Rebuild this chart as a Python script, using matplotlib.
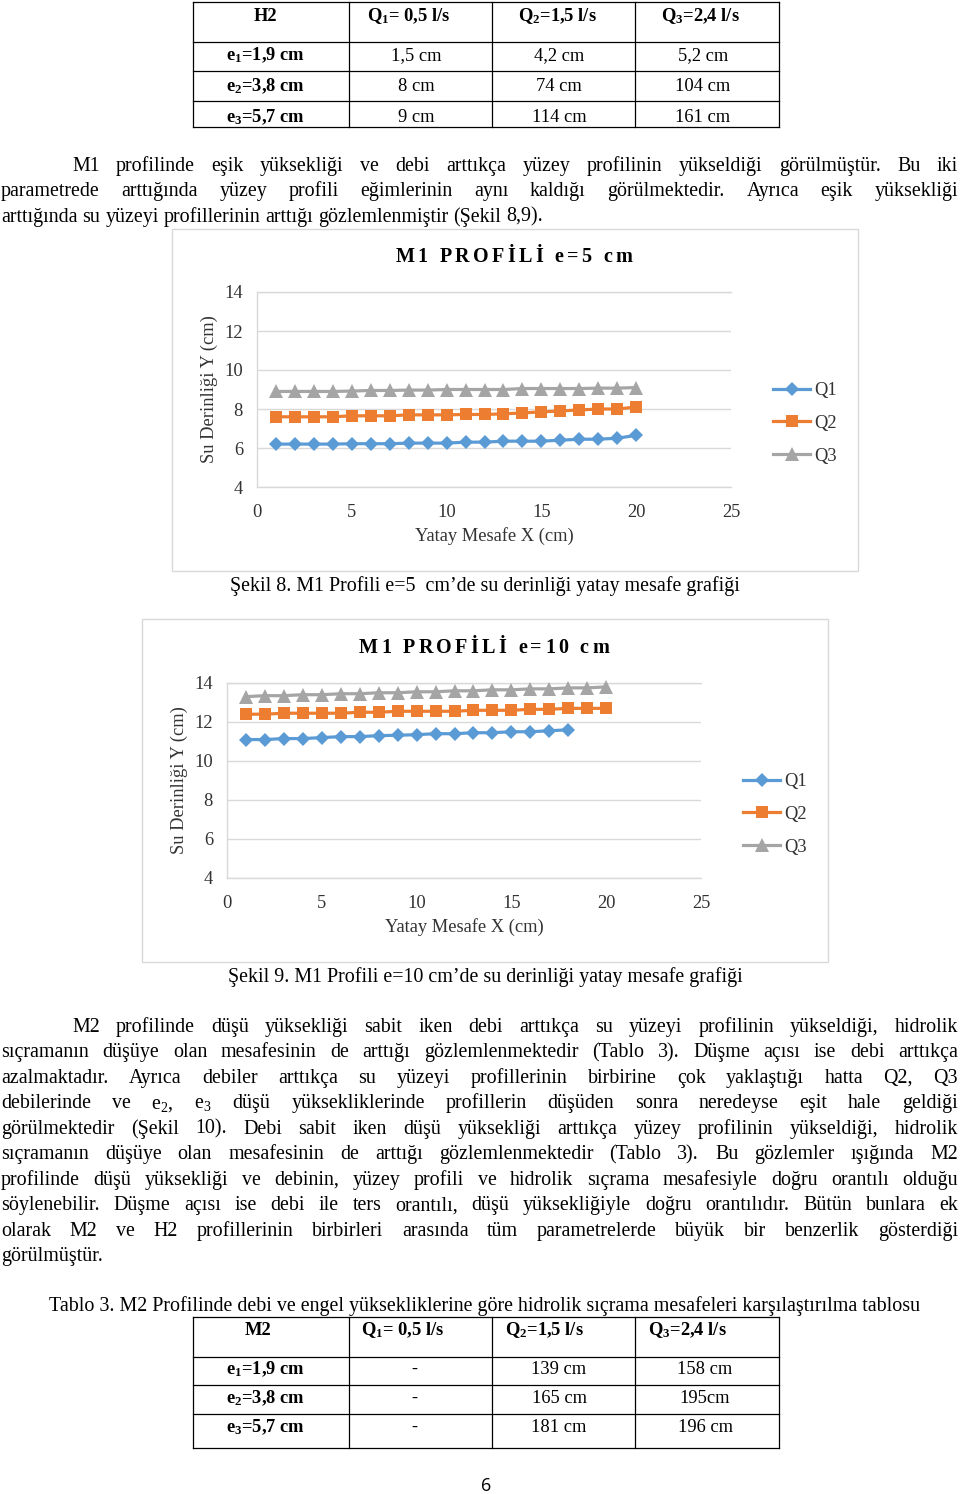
import matplotlib
matplotlib.use('Agg')
import matplotlib.pyplot as plt
from matplotlib.lines import Line2D
from matplotlib.patches import Rectangle

plt.rcParams['font.family'] = ['Liberation Serif', 'DejaVu Serif']
plt.rcParams['mathtext.fontset'] = 'custom'
plt.rcParams['mathtext.rm'] = 'Liberation Serif'
plt.rcParams['mathtext.it'] = 'Liberation Serif:italic'
plt.rcParams['mathtext.bf'] = 'Liberation Serif:bold'

# ---------------- data ----------------
x_points = list(range(1, 21))
x_points_q1_e10 = list(range(1, 19))

e5_q1 = [6.2, 6.2, 6.2, 6.2, 6.22, 6.22, 6.22, 6.25, 6.25, 6.25,
         6.3, 6.3, 6.35, 6.35, 6.35, 6.4, 6.45, 6.45, 6.5, 6.65]
e5_q2 = [7.6, 7.6, 7.6, 7.6, 7.65, 7.65, 7.65, 7.7, 7.7, 7.7,
         7.72, 7.72, 7.75, 7.8, 7.85, 7.9, 7.95, 8.0, 8.0, 8.1]
e5_q3 = [8.9, 8.9, 8.9, 8.9, 8.92, 8.95, 8.95, 8.97, 8.97, 9.0,
         9.0, 9.0, 9.0, 9.05, 9.05, 9.05, 9.05, 9.07, 9.07, 9.1]

e10_q1 = [11.1, 11.1, 11.15, 11.15, 11.2, 11.25, 11.25, 11.3, 11.32, 11.35,
          11.4, 11.4, 11.45, 11.45, 11.5, 11.5, 11.55, 11.6]
e10_q2 = [12.4, 12.4, 12.45, 12.45, 12.45, 12.45, 12.5, 12.5, 12.55, 12.55,
          12.55, 12.55, 12.6, 12.6, 12.6, 12.65, 12.65, 12.7, 12.7, 12.7]
e10_q3 = [13.3, 13.35, 13.35, 13.4, 13.4, 13.45, 13.45, 13.5, 13.5, 13.55,
          13.55, 13.6, 13.6, 13.65, 13.65, 13.7, 13.7, 13.75, 13.75, 13.8]

series_names = ['Q1', 'Q2', 'Q3']
x_ticks = [0, 5, 10, 15, 20, 25]
x_tick_labels = ['0', '5', '10', '15', '20', '25']
y_ticks = [4, 6, 8, 10, 12, 14]
y_tick_labels = ['4', '6', '8', '10', '12', '14']

chart1_title = 'M1 PROFİLİ e=5 cm'
chart2_title = 'M1 PROFİLİ e=10 cm'
x_label = 'Yatay Mesafe X (cm)'
y_label = 'Su Derinliği Y (cm)'

t1_header = ['H2', r'Q$_\mathbf{1}$= 0,5 l/s', r'Q$_\mathbf{2}$=1,5 l/s', r'Q$_\mathbf{3}$=2,4 l/s']
t_rows = [r'e$_\mathbf{1}$=1,9 cm', r'e$_\mathbf{2}$=3,8 cm', r'e$_\mathbf{3}$=5,7 cm']
t1_values = [['1,5 cm', '4,2 cm', '5,2 cm'],
             ['8 cm', '74 cm', '104 cm'],
             ['9 cm', '114 cm', '161 cm']]
t3_header = ['M2', r'Q$_\mathbf{1}$= 0,5 l/s', r'Q$_\mathbf{2}$=1,5 l/s', r'Q$_\mathbf{3}$=2,4 l/s']
t3_values = [['-', '139 cm', '158 cm'],
             ['-', '165 cm', '195cm'],
             ['-', '181 cm', '196 cm']]

para1 = [
    'M1 profilinde eşik yüksekliği ve debi arttıkça yüzey profilinin yükseldiği görülmüştür. Bu iki',
    'parametrede arttığında yüzey profili eğimlerinin aynı kaldığı görülmektedir. Ayrıca eşik yüksekliği',
    'arttığında su yüzeyi profillerinin arttığı gözlemlenmiştir (Şekil 8,9).',
]
para2 = [
    'M2 profilinde düşü yüksekliği sabit iken debi arttıkça su yüzeyi profilinin yükseldiği, hidrolik',
    'sıçramanın düşüye olan mesafesinin de arttığı gözlemlenmektedir (Tablo 3).  Düşme açısı ise debi arttıkça',
    'azalmaktadır. Ayrıca debiler arttıkça su yüzeyi profillerinin birbirine çok yaklaştığı hatta Q2, Q3',
    'debilerinde ve e$_2$, e$_3$ düşü yüksekliklerinde profillerin düşüden sonra neredeyse eşit hale geldiği',
    'görülmektedir (Şekil 10). Debi sabit iken düşü yüksekliği arttıkça yüzey profilinin yükseldiği, hidrolik',
    'sıçramanın düşüye olan mesafesinin de arttığı gözlemlenmektedir (Tablo 3). Bu gözlemler ışığında M2',
    'profilinde düşü yüksekliği ve debinin, yüzey profili ve hidrolik sıçrama mesafesiyle doğru orantılı olduğu',
    'söylenebilir. Düşme açısı ise debi ile ters orantılı, düşü yüksekliğiyle doğru orantılıdır. Bütün bunlara ek',
    'olarak M2 ve H2 profillerinin birbirleri arasında tüm parametrelerde büyük bir benzerlik gösterdiği',
    'görülmüştür.',
]
caption8 = 'Şekil 8. M1 Profili e=5  cm’de su derinliği yatay mesafe grafiği'
caption9 = 'Şekil 9. M1 Profili e=10 cm’de su derinliği yatay mesafe grafiği'
caption_t3 = 'Tablo 3. M2 Profilinde debi ve engel yüksekliklerine göre hidrolik sıçrama mesafeleri karşılaştırılma tablosu'
page_no = '6'

# ---------------- layout helpers ----------------
W, H = 960, 1494
fig = plt.figure(figsize=(9.6, 14.94), dpi=100)
renderer = fig.canvas.get_renderer()

def fx(x):
    return x / W

def fy(y):
    return 1 - y / H

BODY = 14.4
TABLE = 13.3
BASE = 5.8
TXT = '#333333'

def twidth(s, **kw):
    t = fig.text(0, 0, s, **kw)
    w = t.get_window_extent(renderer).width
    t.remove()
    return w

SPACE = twidth('a a', fontsize=BODY) - twidth('aa', fontsize=BODY)

def put(x, y, s, ha='center', size=BODY, weight='normal', color='black', family=None):
    kw = dict(fontsize=size, fontweight=weight, color=color, ha=ha, va='baseline')
    if family:
        kw['family'] = family
    return fig.text(fx(x), fy(y + BASE), s, **kw)

def para_line(line, y, x0=1, x1=958, justify=True):
    words = line.split()
    ts = [fig.text(0, fy(y + BASE), w, fontsize=BODY, va='baseline', ha='left') for w in words]
    ws = [t.get_window_extent(renderer).width for t in ts]
    if justify and len(words) > 1:
        gap = (x1 - x0 - sum(ws)) / (len(words) - 1)
    else:
        gap = SPACE
    x = x0
    for t, w in zip(ts, ws):
        t.set_x(fx(x))
        x += w + gap

def spaced_title(cx, cy, s, size, sp):
    kw = dict(fontsize=size, fontweight='bold')
    ref = twidth('|', **kw)
    total = twidth(s, **kw) + sp * (len(s) - 1)
    x0 = cx - total / 2
    for i, ch in enumerate(s):
        if ch == ' ':
            continue
        off = twidth(s[:i] + '|', **kw) - ref if i > 0 else 0
        fig.text(fx(x0 + off + sp * i), fy(cy + 6), ch, va='baseline', ha='left', **kw)

def hline(x0, x1, y, lw=0.9):
    fig.add_artist(Line2D([fx(x0), fx(x1)], [fy(y), fy(y)], transform=fig.transFigure,
                          color='black', lw=lw))

def vline(x, y0, y1, lw=0.9):
    fig.add_artist(Line2D([fx(x), fx(x)], [fy(y0), fy(y1)], transform=fig.transFigure,
                          color='black', lw=lw))

def draw_table(header, values, top, hdr_bot, row_lines, bottom, hdr_y, row_ys, hdr_x, hdr_ha, val_x):
    cols = [193, 349, 492, 635, 779]
    for yy in [top, hdr_bot] + row_lines + [bottom]:
        hline(cols[0], cols[-1], yy)
    for c in cols:
        vline(c, top, bottom)
    for i, h in enumerate(header):
        put(hdr_x[i], hdr_y, h, ha=hdr_ha[i], weight='bold', size=TABLE)
    for r, yy in enumerate(row_ys):
        put(265, yy, t_rows[r], weight='bold', size=TABLE)
        for c in range(3):
            put(val_x[c], yy, values[r][c], size=TABLE)

def draw_chart(box, left, top, xs_list, ys_list, title):
    bx0, by0, bx1, by1 = box
    fig.add_artist(Rectangle((fx(bx0), fy(by1)), (bx1 - bx0) / W, (by1 - by0) / H,
                             transform=fig.transFigure, facecolor='white',
                             edgecolor='#d9d9d9', lw=1.0, zorder=-5))
    w, h = 474, 195
    ax = fig.add_axes([fx(left), fy(top + h), w / W, h / H])
    ax.set_facecolor('none')
    colors = ['#5B9BD5', '#ED7D31', '#A5A5A5']
    markers = ['D', 's', '^']
    msizes = [7.6, 9.2, 10.4]
    for xs, ys, nm, c, m, ms in zip(xs_list, ys_list, series_names, colors, markers, msizes):
        ax.plot(xs, ys, color=c, marker=m, markersize=ms, lw=2.3, mew=0,
                label=nm, clip_on=False, zorder=3)
    ax.set_xlim(0, 25)
    ax.set_ylim(4, 14)
    ax.set_xticks(x_ticks)
    ax.set_xticklabels(x_tick_labels)
    ax.set_yticks(y_ticks)
    ax.set_yticklabels(y_tick_labels)
    ax.tick_params(length=0, labelsize=13.3, colors=TXT)
    ax.tick_params(axis='x', pad=12)
    ax.tick_params(axis='y', pad=10)
    ax.yaxis.grid(True, color='#d9d9d9', lw=1.0)
    ax.set_axisbelow(True)
    for s in ['top', 'bottom', 'left']:
        ax.spines[s].set_color('#d9d9d9')
        ax.spines[s].set_linewidth(1.0)
    ax.spines['right'].set_visible(False)
    ax.set_xlabel(x_label, fontsize=13.3, color=TXT, va='center')
    ax.xaxis.set_label_coords(0.5, -0.251)
    ax.set_ylabel(y_label, fontsize=13.3, color=TXT, va='center')
    ax.yaxis.set_label_coords(-0.101, 0.5)
    ax.legend(loc='center left', bbox_to_anchor=(1.089, 0.326), frameon=False,
              fontsize=13.3, handlelength=2.0, handletextpad=0.25, labelspacing=0.86,
              borderpad=0, borderaxespad=0, labelcolor=TXT)
    spaced_title(left + 0.542 * w, top + h - 1.185 * h, title, 14.5, 3.3)
    return ax

# ---------------- table 1 (top) ----------------
draw_table(t1_header, t1_values, top=2, hdr_bot=42, row_lines=[71, 101], bottom=127,
           hdr_y=15, row_ys=[54, 85, 116],
           hdr_x=[265, 409, 557, 700], hdr_ha=['center'] * 4, val_x=[416, 559, 703])

# ---------------- paragraph 1 ----------------
for i, line in enumerate(para1):
    last = i == len(para1) - 1
    para_line(line, 165 + 25.5 * i, x0=72 if i == 0 else 1, justify=not last)

# ---------------- charts ----------------
draw_chart((172, 229, 858, 571), 257, 292,
           [x_points, x_points, x_points], [e5_q1, e5_q2, e5_q3], chart1_title)
put(485, 585, caption8)

draw_chart((142, 619, 828, 962), 227, 683,
           [x_points_q1_e10, x_points, x_points], [e10_q1, e10_q2, e10_q3], chart2_title)
put(485, 976, caption9)

# ---------------- paragraph 2 ----------------
for i, line in enumerate(para2):
    last = i == len(para2) - 1
    para_line(line, 1026 + 25.5 * i, x0=72 if i == 0 else 1, justify=not last)

# ---------------- table 3 ----------------
put(485, 1305, caption_t3)
draw_table(t3_header, t3_values, top=1317, hdr_bot=1357, row_lines=[1385, 1414], bottom=1448,
           hdr_y=1329, row_ys=[1368, 1397, 1426],
           hdr_x=[258, 361, 505, 648], hdr_ha=['center', 'left', 'left', 'left'],
           val_x=[414, 559, 705])

put(486, 1485, page_no, size=13, family=['Open Sans', 'DejaVu Sans'])

fig.savefig('out.png', dpi=100, facecolor='white')
